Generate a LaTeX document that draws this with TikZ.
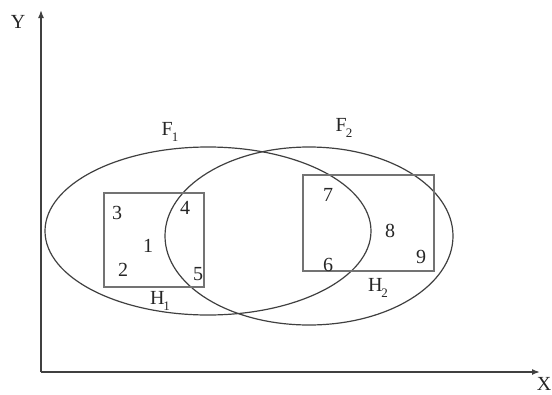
\documentclass[tikz,border=0pt]{standalone}
\usepackage{fontspec}
\setmainfont{Liberation Serif}
\usetikzlibrary{shapes.geometric,arrows.meta}
\newcommand{\lowsub}[1]{\kern-1pt\raisebox{-6pt}{\fontsize{13}{13}\selectfont #1}}
\begin{document}
\begin{tikzpicture}[x=1pt,y=-1pt,
  lbl/.style={inner sep=0pt,font=\fontsize{20}{21}\selectfont,text=black!85},
  setell/.style={draw=black!75,line width=1.2pt,ellipse,inner sep=0pt},
  setbox/.style={draw=black!55,line width=1.4pt,rectangle,inner sep=0pt},
  axis/.style={draw=black!75,line width=1.5pt,-{Latex[length=8pt,width=6pt]}}]
\useasboundingbox (0,0) rectangle (552,394);
\coordinate (o) at (41,372);
\coordinate (ytip) at (41,10);
\coordinate (xtip) at (540,372);
\draw[axis] (o) -- (ytip);
\draw[axis] (o) -- (xtip);
\node[lbl] (ylab) at (18,22) {Y};
\node[lbl] (xlab) at (544,384) {X};
\node[setell,minimum width=326pt,minimum height=168pt] (F1) at (208,231) {};
\node[setell,minimum width=288pt,minimum height=178pt] (F2) at (309,236) {};
\node[setbox,minimum width=100pt,minimum height=94pt] (H1) at (154,240) {};
\node[setbox,minimum width=131pt,minimum height=96pt] (H2) at (368.5,223) {};
\node[lbl] (f1) at (170,132) {F\lowsub{1}};
\node[lbl] (f2) at (344,128) {F\lowsub{2}};
\node[lbl] (h1) at (160,301) {H\lowsub{1}};
\node[lbl] (h2) at (378,288) {H\lowsub{2}};
\node[lbl] (n3) at (117,213) {3};
\node[lbl] (n4) at (185,208) {4};
\node[lbl] (n1) at (148,246) {1};
\node[lbl] (n2) at (123,270) {2};
\node[lbl] (n5) at (198,274) {5};
\node[lbl] (n7) at (328,195) {7};
\node[lbl] (n8) at (390,231) {8};
\node[lbl] (n9) at (421,257) {9};
\node[lbl] (n6) at (328,265) {6};
\end{tikzpicture}
\end{document}
